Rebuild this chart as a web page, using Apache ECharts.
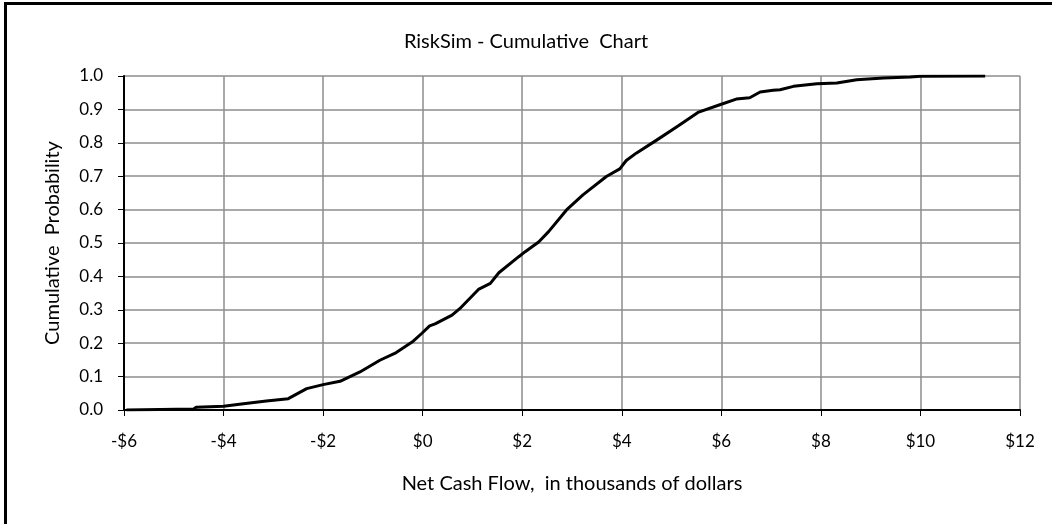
<!DOCTYPE html>
<html>
<head>
<meta charset="utf-8">
<script src="https://cdn.jsdelivr.net/npm/echarts@6/dist/echarts.min.js"></script>
<style>
html,body{margin:0;padding:0;background:#fff;}
#chart{width:1052px;height:524px;}
</style>
</head>
<body>
<div id="chart"></div>
<script>
// Net cash flow (thousands of dollars)
const cashFlow = [-5.95,-4.60,-4.55,-4.00,-3.60,-3.14,-2.70,-2.33,-2.00,-1.66,-1.26,-0.86,-0.53,-0.19,-0.02,0.14,0.25,0.59,0.75,1.12,1.36,1.53,1.93,2.06,2.33,2.53,2.89,3.22,3.69,3.96,4.09,4.29,4.70,5.13,5.53,5.97,6.30,6.57,6.78,7.04,7.18,7.45,7.92,8.32,8.72,9.26,9.80,10.00,11.30];
// Cumulative probability
const cumProb = [0.000,0.003,0.008,0.011,0.019,0.027,0.034,0.064,0.076,0.086,0.114,0.149,0.172,0.206,0.229,0.252,0.258,0.284,0.304,0.361,0.379,0.411,0.459,0.474,0.503,0.534,0.599,0.644,0.699,0.722,0.747,0.769,0.808,0.850,0.891,0.914,0.931,0.935,0.952,0.957,0.959,0.969,0.977,0.979,0.989,0.994,0.997,0.999,1.000];
const xTicks = {min:-6, max:12, step:2};
const yTicks = {min:0, max:1, step:0.1};

const FONT = 'Lato, "Open Sans", sans-serif';
const chart = echarts.init(document.getElementById('chart'), null, {renderer:'canvas'});
chart.setOption({
  animation:false,
  backgroundColor:'#fff',
  title:{
    text:'RiskSim - Cumulative  Chart',
    left:'center', top:27,
    textStyle:{fontFamily:FONT, fontSize:20, fontWeight:'normal', color:'#000'}
  },
  graphic:[{
    type:'rect', silent:true, z:100,
    shape:{x:5.5, y:3.5, width:1060, height:540},
    style:{fill:'none', stroke:'#000', lineWidth:3}
  }],
  grid:{left:124, right:32, top:76, bottom:114, containLabel:false},
  xAxis:{
    type:'value', min:xTicks.min, max:xTicks.max, interval:xTicks.step,
    name:'Net Cash Flow,  in thousands of dollars',
    nameLocation:'middle', nameGap:64,
    nameTextStyle:{fontFamily:FONT, fontSize:20, color:'#000'},
    axisLine:{show:true, onZero:false, lineStyle:{color:'#000', width:2}},
    axisTick:{show:true, length:6, lineStyle:{color:'#000', width:1}},
    axisLabel:{fontFamily:FONT, fontSize:17, color:'#000', margin:23,
      formatter:v => v < 0 ? '-$' + (-v) : '$' + v},
    splitLine:{show:true, lineStyle:{color:'#8c8c8c', width:1.5}}
  },
  yAxis:{
    type:'value', min:yTicks.min, max:yTicks.max, interval:yTicks.step,
    name:'Cumulative  Probability',
    nameLocation:'middle', nameGap:61, nameRotate:90,
    nameTextStyle:{fontFamily:FONT, fontSize:20, color:'#000'},
    axisLine:{show:true, onZero:false, lineStyle:{color:'#000', width:2}},
    axisTick:{show:true, length:6, lineStyle:{color:'#000', width:1}},
    axisLabel:{fontFamily:FONT, fontSize:17, color:'#000', margin:21,
      formatter:v => v.toFixed(1)},
    splitLine:{show:true, lineStyle:{color:'#8c8c8c', width:1.5}}
  },
  series:[{
    type:'line',
    data:cashFlow.map((x,i)=>[x, cumProb[i]]),
    showSymbol:false, symbol:'none',
    lineStyle:{color:'#000', width:3},
    z:10
  }]
});
</script>
</body>
</html>
